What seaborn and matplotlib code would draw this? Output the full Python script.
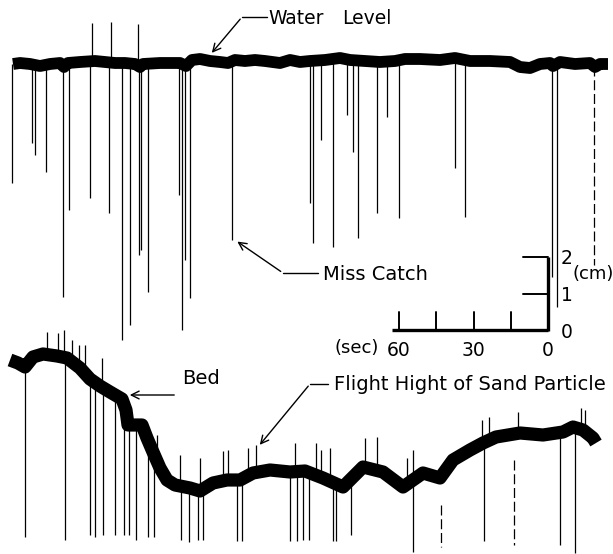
import numpy as np
import pandas as pd
import matplotlib
matplotlib.use("Agg")
import matplotlib.pyplot as plt
import seaborn as sns

# ---------------- data (pixel-like units) ----------------
# Water level trace (x, y)
water_x = [13, 20, 30, 40, 50, 60, 64, 68, 80, 95, 105, 115, 125, 135, 140, 143, 160, 175,
           180, 186, 192, 200, 210, 220, 228, 235, 245, 255, 265, 280, 290, 300, 310, 325,
           340, 350, 365, 380, 395, 405, 420, 440, 455, 470, 490, 510, 520, 530, 540, 550,
           553, 560, 575, 590, 595, 600, 608]
water_y = [64, 63, 64, 66, 64, 63, 67, 63, 62, 61, 62, 63, 63, 64, 67, 64, 63, 63,
           63, 66, 60, 59, 61, 62, 63, 60, 61, 60, 61, 63, 60, 62, 61, 60,
           58, 60, 61, 62, 61, 59, 59, 60, 58, 61, 61, 62, 67, 68, 64, 63,
           66, 62, 64, 63, 67, 64, 64]

# Downward "miss catch" spikes of the water-level trace (x, lowest y)
wspike_x = [12, 32, 35, 46, 63, 69, 90, 109, 122, 130, 139, 141, 148, 179, 182, 185, 190,
            232, 310, 313, 321, 333, 347, 353, 358, 377, 387, 399, 455, 465, 552, 557]
wspike_end = [183, 143, 155, 172, 297, 210, 198, 213, 340, 325, 255, 250, 292, 195, 330, 260,
              298, 240, 203, 243, 140, 247, 115, 152, 238, 213, 117, 218, 168, 217, 277, 307]
# Upward spikes of the water-level trace
wup_x = [92, 111, 138]
wup_end = [23, 22, 24]
# Broken (dashed) spike at right end
wdash_x = [594]
wdash_end = [265]

# Bed trace (x, y)
bed_x = [10, 18, 25, 33, 43, 57, 67, 80, 90, 100, 110, 122, 126, 128, 142, 147, 153, 160,
         167, 175, 190, 200, 213, 227, 240, 253, 270, 290, 305, 323, 343, 363, 383, 403,
         423, 440, 453, 470, 483, 496, 520, 543, 563, 573, 583, 593, 596]
bed_y = [360, 363, 367, 357, 354, 356, 358, 368, 379, 386, 392, 399, 410, 425, 425, 438,
         452, 468, 480, 485, 488, 491, 483, 480, 480, 473, 470, 472, 471, 478, 487, 467,
         472, 487, 473, 478, 460, 450, 443, 437, 433, 435, 432, 427, 430, 438, 443]

# Downward spikes from the bed trace
bdown_x = [25, 65, 90, 95, 103, 115, 124, 129, 136, 148, 154, 181, 189, 198, 203, 237, 242,
           290, 297, 303, 309, 333, 336, 351, 413, 484, 560, 575]
bdown_end = [537, 540, 535, 537, 535, 535, 535, 535, 540, 537, 537, 540, 542, 540, 540, 541,
             541, 541, 541, 540, 540, 541, 541, 535, 552, 541, 545, 553]
# Dashed downward spikes
bdash_x = [441, 514]
bdash_top = [505, 460]
bdash_end = [547, 545]
# Upward spikes from the bed trace
bup_x = [47, 58, 64, 72, 79, 85, 102, 157, 180, 200, 223, 228, 248, 256, 295, 316, 321, 330,
         365, 377, 407, 413, 482, 489, 518, 581, 585]
bup_end = [332, 333, 330, 340, 345, 345, 358, 435, 455, 458, 451, 450, 448, 445, 443, 443,
           450, 448, 438, 437, 458, 450, 420, 417, 412, 408, 410]

# Scale bar
sec_ticks = [60, 45, 30, 15, 0]
sec_labels = ["60", "30", "0"]
cm_ticks = [0, 1, 2]

# ---------------- figure ----------------
sns.set_theme(style="white")
plt.rcParams['font.family'] = ['DejaVu Sans']
plt.rcParams['text.color'] = 'black'

fig = plt.figure(figsize=(6.13, 5.54), dpi=100)
ax = fig.add_axes([0, 0, 1, 1])
ax.set_xlim(0, 613)
ax.set_ylim(554, 0)
ax.axis("off")

water_df = pd.DataFrame({"x": water_x, "y": water_y})
bed_df = pd.DataFrame({"x": bed_x, "y": bed_y})

sns.lineplot(data=water_df, x="x", y="y", ax=ax, color="black", lw=8.5, sort=False,
             solid_capstyle="butt", solid_joinstyle="round")
sns.lineplot(data=bed_df, x="x", y="y", ax=ax, color="black", lw=9.5, sort=False,
             solid_capstyle="butt", solid_joinstyle="round")

# spikes on water level
wtop = np.interp(wspike_x, water_x, water_y)
ax.vlines(wspike_x, wtop, wspike_end, color="black", lw=0.9)
wtop_u = np.interp(wup_x, water_x, water_y)
ax.vlines(wup_x, wtop_u, wup_end, color="black", lw=0.9)
wtop_d = np.interp(wdash_x, water_x, water_y)
ax.vlines(wdash_x, wtop_d, wdash_end, color="black", lw=0.9, linestyles=(0, (8, 3)))

# spikes on bed
btop = np.interp(bdown_x, bed_x, bed_y)
ax.vlines(bdown_x, btop, bdown_end, color="black", lw=0.9)
ax.vlines(bdash_x, bdash_top, bdash_end, color="black", lw=0.9, linestyles=(0, (8, 3)))
btop_u = np.interp(bup_x, bed_x, bed_y)
ax.vlines(bup_x, btop_u, bup_end, color="black", lw=0.9)

# ---------------- scale bar ----------------
x0, x60, ybar = 548, 399, 330
px_per_sec = (x0 - x60) / 60.0
ax.plot([392, x0], [ybar, ybar], color="black", lw=2.4, solid_capstyle="butt")
for s in sec_ticks[:-1]:
    xx = x0 - s * px_per_sec
    ax.plot([xx, xx], [ybar, 312], color="black", lw=1.4)
for lab in sec_labels:
    xx = x0 - int(lab) * px_per_sec
    ax.text(xx, 351, lab, ha="center", va="center", fontsize=13.5, color="black")
ax.text(357, 348, "(sec)", ha="center", va="center", fontsize=13, color="black")

px_per_cm = (ybar - 257) / 2.0
ax.plot([x0, x0], [ybar + 1, 257], color="black", lw=2.4, solid_capstyle="butt")
for c in cm_ticks[1:]:
    yy = ybar - c * px_per_cm
    ax.plot([523, x0], [yy, yy], color="black", lw=1.4)
for c in cm_ticks:
    yy = ybar - c * px_per_cm
    ax.text(567, yy + 2, str(c), ha="center", va="center", fontsize=13.5, color="black")
ax.text(593, 274, "(cm)", ha="center", va="center", fontsize=13, color="black")

# ---------------- annotations ----------------
fs = 14
ax.text(268, 19, "Water", ha="left", va="center", fontsize=13.5, color="black")
ax.text(342, 19, "Level", ha="left", va="center", fontsize=13.5, color="black")
ax.plot([242, 267], [17, 17], color="black", lw=1.0)
ax.annotate("", xy=(210, 55), xytext=(242, 17),
            arrowprops=dict(arrowstyle="->", color="black", lw=1.0, mutation_scale=14))

ax.text(323, 274, "Miss Catch", ha="left", va="center", fontsize=fs, color="black")
ax.plot([283, 318], [273, 273], color="black", lw=1.0)
ax.annotate("", xy=(235, 240), xytext=(283, 273),
            arrowprops=dict(arrowstyle="->", color="black", lw=1.0, mutation_scale=14))

ax.text(182, 378, "Bed", ha="left", va="center", fontsize=fs, color="black")
ax.annotate("", xy=(127, 395), xytext=(177, 395),
            arrowprops=dict(arrowstyle="->", color="black", lw=1.0, mutation_scale=14))

ax.text(334, 385, "Flight Hight of Sand Particle", ha="left", va="center", fontsize=fs,
        color="black")
ax.plot([310, 328], [384, 384], color="black", lw=1.0)
ax.annotate("", xy=(258, 447), xytext=(310, 384),
            arrowprops=dict(arrowstyle="->", color="black", lw=1.0, mutation_scale=14))

fig.savefig("out.png", dpi=100, facecolor="white")
